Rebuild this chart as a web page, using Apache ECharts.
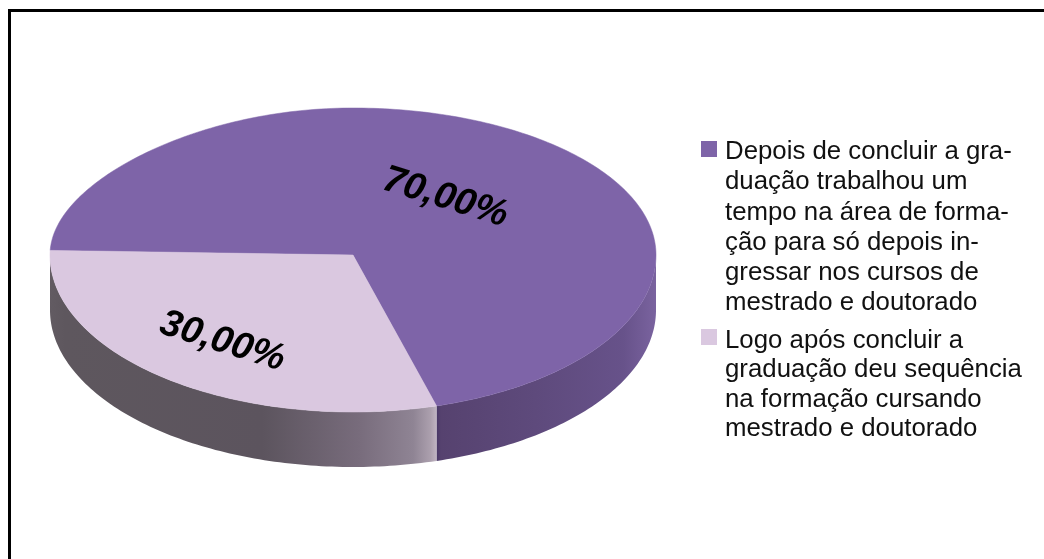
<!DOCTYPE html>
<html>
<head>
<meta charset="utf-8">
<style>html,body{margin:0;padding:0;background:#fff}#c{width:1044px;height:559px}</style>
<script src="https://cdn.jsdelivr.net/npm/echarts@6/dist/echarts.min.js"></script>
</head>
<body>
<div id="c"></div>
<script>
const categories = [
  'Depois de concluir a gra-\nduação trabalhou um\ntempo na área de forma-\nção para só depois in-\ngressar nos cursos de\nmestrado e doutorado',
  'Logo após concluir a\ngraduação deu sequência\nna formação cursando\nmestrado e doutorado'
];
const values = [70, 30];
const topColors = ['#7e64a8', '#dac8e0'];

// Tilted-disc projection
const CX = 353, CY = 255, RX = 303, RY_BACK = 147, RY_FRONT = 157, DEPTH = 55;
const BACK_LEFT_FLATTEN = 15;  // slight perspective flattening of the back-left rim
const FRONT_BOUNDARY = 74;     // degrees, clockwise from +x, where the slices meet at the front
const LABEL_R = [0.495, 0.7];

const total = values.reduce((a, b) => a + b, 0);
const sweep = values.map(v => v / total * 360);
const spans = [
  [FRONT_BOUNDARY + sweep[1], FRONT_BOUNDARY + sweep[1] + sweep[0]],
  [FRONT_BOUNDARY, FRONT_BOUNDARY + sweep[1]]
];
function proj(deg, r, dy) {
  const a = deg * Math.PI / 180, s = Math.sin(a), c = Math.cos(a);
  const flat = (s < 0 && c < 0) ? BACK_LEFT_FLATTEN * c * c * (-s) * r : 0;
  return [CX + RX * r * c, CY + (s > 0 ? RY_FRONT : RY_BACK) * r * s + flat + (dy || 0)];
}
function arc(from, to, dy) {
  const pts = [], n = Math.max(2, Math.ceil(Math.abs(to - from)));
  for (let i = 0; i <= n; i++) pts.push(proj(from + (to - from) * i / n, 1, dy));
  return pts;
}
function grad(stops) {
  return new echarts.graphic.LinearGradient(0, 0, 1, 0, stops.map(s => ({offset: s[0], color: s[1]})));
}
const wallFills = [
  () => grad([[0,'#483766'],[0.02,'#56426f'],[0.45,'#5e4a7c'],[0.85,'#67528a'],[1,'#7a639f']]),
  () => grad([[0,'#625b62'],[0.04,'#5e575e'],[0.55,'#5c545e'],[0.8,'#786c7c'],[0.94,'#8f8494'],[0.985,'#aca0ae'],[1,'#c0b4c2']])
];
function wallRange(i) {
  return i === 0 ? [0, FRONT_BOUNDARY] : [FRONT_BOUNDARY, 180];
}
function renderSlice(i) {
  return function (params, api) {
    const v = api.value(0);
    const span = spans[i];
    const wr = wallRange(i);
    const topArc = arc(wr[0], wr[1], 0);
    const botArc = arc(wr[1], wr[0], DEPTH);
    const mid = (span[0] + span[1]) / 2;
    const lp = proj(mid, LABEL_R[i], 0);
    const face = [[CX, CY]].concat(arc(span[0], span[1], 0));
    return {
      type: 'group',
      children: [
        {type: 'polygon', shape: {points: topArc.concat(botArc)}, style: {fill: wallFills[i]()}},
        {type: 'polygon', shape: {points: face}, style: {fill: topColors[i], stroke: topColors[i], lineWidth: 0.5}},
        {type: 'text', x: lp[0], y: lp[1], rotation: -0.3, originX: 0, originY: 0,
          style: {
            text: v.toFixed(2).replace('.', ',') + '%',
            x: 0, y: 0, align: 'center', verticalAlign: 'middle',
            font: 'italic bold 38px "Liberation Sans"', fill: '#000'
          }}
      ]
    };
  };
}
function legendBox(name, top, height, inset, lineHeight) {
  return {
    data: [name], left: 701, top: top, padding: 0, orient: 'vertical',
    selectedMode: false, itemWidth: 16, itemHeight: height,
    icon: 'path://M0,0L16,0ZM0,' + inset + 'H16V' + (inset + 16) + 'H0ZM0,' + height + 'L16,' + height + 'Z',
    textStyle: {fontFamily: 'Liberation Sans', fontSize: 25.8, lineHeight: lineHeight, color: '#111', padding: [0, 0, 0, 3]}
  };
}
const chart = echarts.init(document.getElementById('c'), null, {renderer: 'canvas'});
chart.setOption({
  animation: false,
  backgroundColor: '#fff',
  color: topColors,
  legend: [
    legendBox(categories[0], 137, 181, 4, 30.2),
    legendBox(categories[1], 326, 118, 3, 29.5)
  ],
  graphic: [{type: 'rect', shape: {x: 9.5, y: 10.5, width: 1100, height: 620},
    style: {fill: 'none', stroke: '#000', lineWidth: 3}, silent: true}],
  series: values.map((v, i) => ({
    type: 'custom', name: categories[i], coordinateSystem: 'none',
    itemStyle: {color: topColors[i]},
    data: [[v]], renderItem: renderSlice(i), silent: true, z: 2 + i
  }))
});
</script>
</body>
</html>
